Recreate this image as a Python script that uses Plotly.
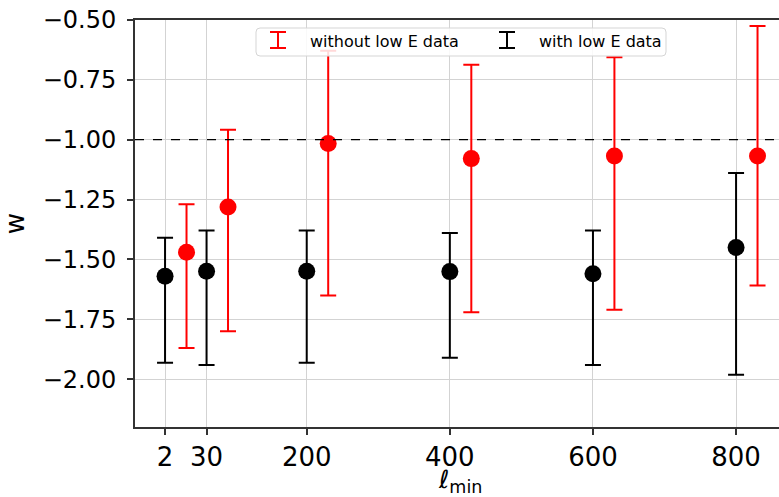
import plotly.graph_objects as go

# ---- data ----
ell_with = [2, 60, 200, 400, 600, 800]
w_with = [-1.570, -1.549, -1.549, -1.551, -1.560, -1.450]
w_with_hi = [-1.410, -1.379, -1.379, -1.390, -1.379, -1.139]
w_with_lo = [-1.932, -1.941, -1.932, -1.911, -1.941, -1.982]

ell_without = [32, 90, 230, 430, 630, 830]
w_without = [-1.470, -1.281, -1.016, -1.079, -1.068, -1.068]
w_without_hi = [-1.270, -0.958, -0.628, -0.687, -0.656, -0.525]
w_without_lo = [-1.870, -1.800, -1.651, -1.721, -1.710, -1.609]

tick_vals = [2, 60, 200, 400, 600, 800]
tick_text = ["2", "30", "200", "400", "600", "800"]
w_ref = -1.0

FONT = "DejaVu Sans"
W, H = 779, 497
# plot area in page pixels
PX0, PX1, PY0, PY1 = 135, 779, 20, 427
L, R, T, B = PX0, W - PX1, PY0, H - PY1
PW, PH = PX1 - PX0, PY1 - PY0


def px(x):
    return (x - PX0) / PW


def py(y):
    return (PY1 - y) / PH


fig = go.Figure()

fig.add_trace(go.Scatter(
    x=ell_with, y=w_with, mode="markers",
    marker=dict(color="black", size=17),
    error_y=dict(type="data", symmetric=False,
                 array=[h - v for h, v in zip(w_with_hi, w_with)],
                 arrayminus=[v - l for l, v in zip(w_with_lo, w_with)],
                 color="black", thickness=2, width=8),
    showlegend=False, name="with low E data"))

fig.add_trace(go.Scatter(
    x=ell_without, y=w_without, mode="markers",
    marker=dict(color="red", size=17),
    error_y=dict(type="data", symmetric=False,
                 array=[h - v for h, v in zip(w_without_hi, w_without)],
                 arrayminus=[v - l for l, v in zip(w_without_lo, w_without)],
                 color="red", thickness=2, width=8),
    showlegend=False, name="without low E data"))

shapes = [dict(type="line", xref="paper", x0=0, x1=1, yref="y", y0=w_ref, y1=w_ref,
               line=dict(color="black", width=1.3, dash="dash"), layer="above")]

# legend box (rounded)
bx0, bx1, by0, by1, r = 256, 666, 28, 56, 4
path = (f"M {px(bx0+r)},{py(by0)} L {px(bx1-r)},{py(by0)} Q {px(bx1)},{py(by0)} {px(bx1)},{py(by0+r)} "
        f"L {px(bx1)},{py(by1-r)} Q {px(bx1)},{py(by1)} {px(bx1-r)},{py(by1)} "
        f"L {px(bx0+r)},{py(by1)} Q {px(bx0)},{py(by1)} {px(bx0)},{py(by1-r)} "
        f"L {px(bx0)},{py(by0+r)} Q {px(bx0)},{py(by0)} {px(bx0+r)},{py(by0)} Z")
shapes.append(dict(type="path", xref="paper", yref="paper", path=path,
                   fillcolor="rgba(255,255,255,0.85)", line=dict(color="#d5d5d5", width=1),
                   layer="above"))

annotations = []
for cx, col, txt, tx in [(278, "red", "without low E data", 308),
                          (507, "black", "with low E data", 537)]:
    yt, yb = 32, 48
    shapes.append(dict(type="line", xref="paper", yref="paper", x0=px(cx), x1=px(cx),
                       y0=py(yt), y1=py(yb), line=dict(color=col, width=2), layer="above"))
    for yy in (yt, yb):
        shapes.append(dict(type="line", xref="paper", yref="paper", x0=px(cx - 8), x1=px(cx + 8),
                           y0=py(yy), y1=py(yy), line=dict(color=col, width=2), layer="above"))
    annotations.append(dict(xref="paper", yref="paper", x=px(tx), y=py(41), text=txt,
                            showarrow=False, xanchor="left", yanchor="middle",
                            font=dict(family=FONT, size=16, color="black")))

# x-axis title
annotations.append(dict(xref="paper", yref="paper", x=px(460), y=py(464), text="ℓ<sub>min</sub>",
                        showarrow=False, xanchor="center", yanchor="top", borderpad=0,
                        font=dict(family=FONT, size=25, color="black")))

fig.update_layout(
    width=W, height=H,
    margin=dict(l=L, r=R, t=T, b=B, pad=0),
    paper_bgcolor="white", plot_bgcolor="white",
    font=dict(family=FONT, color="black"),
    shapes=shapes, annotations=annotations,
    xaxis=dict(range=[-40, 860], tickvals=tick_vals, ticktext=tick_text,
               showgrid=True, gridcolor="#d3d3d3", gridwidth=1,
               showline=True, linecolor="#333333", linewidth=2, mirror=True,
               ticks="outside", ticklen=6, tickwidth=1.5, tickcolor="#333333",
               tickfont=dict(family=FONT, size=26), zeroline=False),
    yaxis=dict(range=[-2.2, -0.5], dtick=0.25, tick0=-0.5, tickformat=".2f",
               showgrid=True, gridcolor="#d3d3d3", gridwidth=1,
               showline=True, linecolor="#333333", linewidth=2,
               ticks="outside", ticklen=6, tickwidth=1.5, tickcolor="#333333",
               ticklabelstandoff=6, ticklabeloverflow="allow",
               tickfont=dict(family=FONT, size=24), zeroline=False,
               title=dict(text="w", font=dict(family=FONT, size=26), standoff=12)),
)

fig.write_html("out.html", config={"displayModeBar": False},
               post_script="document.body.style.margin='0';document.body.style.overflow='hidden';")
